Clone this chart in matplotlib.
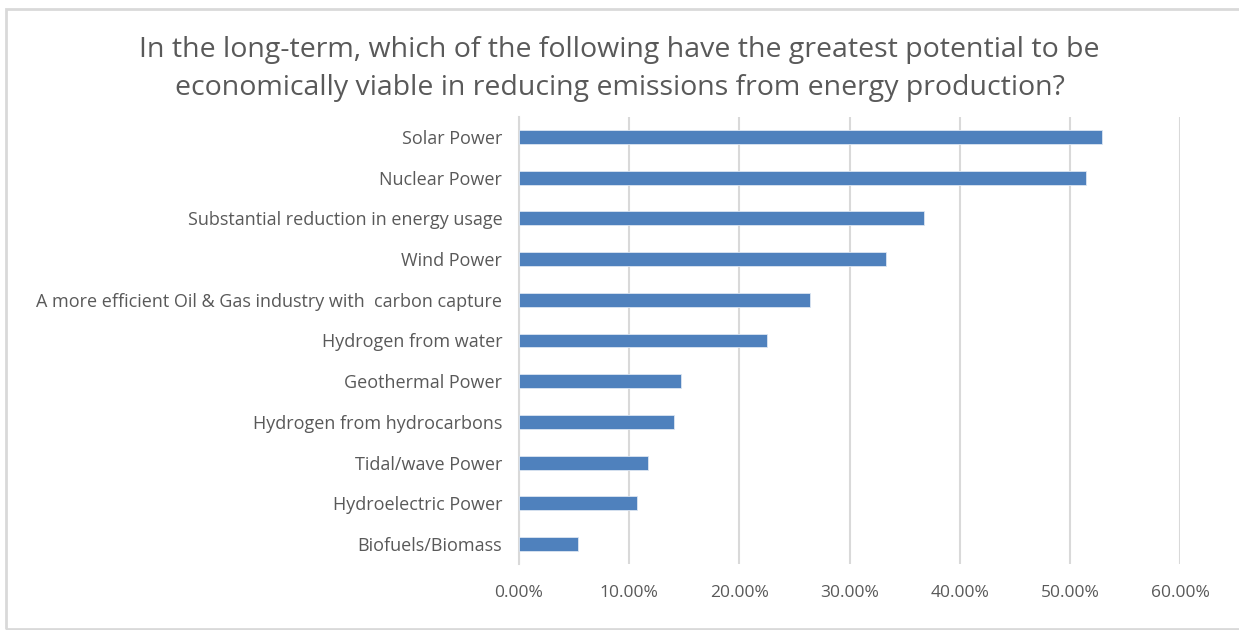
import matplotlib
matplotlib.use("Agg")
import matplotlib.pyplot as plt
from matplotlib.patches import Rectangle
from matplotlib.ticker import PercentFormatter

categories = [
    "Solar Power",
    "Nuclear Power",
    "Substantial reduction in energy usage",
    "Wind Power",
    "A more efficient Oil & Gas industry with  carbon capture",
    "Hydrogen from water",
    "Geothermal Power",
    "Hydrogen from hydrocarbons",
    "Tidal/wave Power",
    "Hydroelectric Power",
    "Biofuels/Biomass",
]
shares = [0.529, 0.515, 0.368, 0.333, 0.264, 0.225, 0.147, 0.141, 0.117, 0.107, 0.054]
x_ticks = [0.0, 0.1, 0.2, 0.3, 0.4, 0.5, 0.6]

title = ("In the long-term, which of the following have the greatest potential to be\n"
         "economically viable in reducing emissions from energy production?")

plt.rcParams["font.family"] = ["Open Sans", "DejaVu Sans"]

fig = plt.figure(figsize=(12.39, 6.30), dpi=100)
ax = fig.add_axes([519 / 1239, 1 - 564.4 / 630, (1180 - 519) / 1239, (564.4 - 116.6) / 630])

y = list(range(len(categories)))
ax.barh(y, shares, height=0.34, color="#4f81bd", edgecolor="#dce6f2", linewidth=0.6, zorder=3)
ax.set_ylim(len(categories) - 0.5, -0.5)
ax.set_yticks(y)
ax.set_yticklabels(categories, fontsize=13, color="#595959")

ax.set_xlim(0, 0.6)
ax.set_xticks(x_ticks)
ax.xaxis.set_major_formatter(PercentFormatter(1.0, decimals=2))
ax.tick_params(axis="x", labelsize=12.5, labelcolor="#595959", length=0, pad=15)
ax.tick_params(axis="y", length=0, pad=12)
ax.grid(axis="x", color="#d9d9d9", linewidth=1.5, zorder=0)
for s in ["top", "right", "bottom"]:
    ax.spines[s].set_visible(False)
ax.spines["left"].set_color("#d9d9d9")
ax.spines["left"].set_linewidth(1.5)

fig.text(0.5, 1 - 69 / 630, title, ha="center", va="center", fontsize=20.5,
         color="#595959", linespacing=1.5)

fig.patches.append(Rectangle((6 / 1239, 1 - 629 / 630), 1.2, 620 / 630,
                             transform=fig.transFigure, fill=False,
                             edgecolor="#d9d9d9", linewidth=2))

fig.savefig("out.png", dpi=100, facecolor="white")
